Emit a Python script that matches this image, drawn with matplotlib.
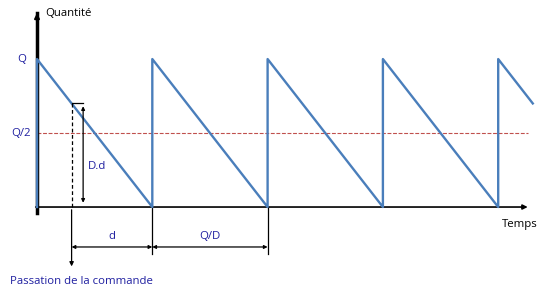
import matplotlib
matplotlib.use("Agg")
import matplotlib.pyplot as plt

# Model values (Q/D = one cycle)
Q = 1.0
D = 1.0
d = 0.70                       # delai de livraison
cycle_starts = [0, 1, 2, 3, 4]  # instants de reapprovisionnement
t_end = 4.30                    # fin du trace

label_color = '#1f1fa0'
line_color = '#4a7ebb'
fs = 8.2

# Build the sawtooth from the cycle list
T = Q / D
xs = [0.0]
ys = [0.0]
for t0 in cycle_starts:
    xs += [t0, min(t0 + T, t_end)]
    ys += [Q, Q - D * (min(t0 + T, t_end) - t0)]
    if t0 + T <= t_end:
        xs.append(t0 + T)
        ys.append(0.0)

t_order = T - d      # passation de la commande
level_order = D * d  # stock au moment de la commande

fig = plt.figure(figsize=(5.51, 2.97), dpi=100)
ax = fig.add_axes([0, 0, 1, 1])
ax.set_xlim(-0.321, 4.458)
ax.set_ylim(-0.608, 1.399)
ax.axis('off')

# axes
ax.plot([0, 0], [-0.04, 1.31], color='black', lw=2.5, zorder=2)
ax.annotate('', xy=(0, 1.33), xytext=(0, 1.25),
            arrowprops=dict(arrowstyle='-|>', color='black', lw=1.5, mutation_scale=7))
ax.annotate('', xy=(4.28, 0), xytext=(-0.035, 0),
            arrowprops=dict(arrowstyle='-|>', color='black', lw=1.2, mutation_scale=7))

# Q/2 dashed line
ax.plot([0, 4.26], [Q / 2, Q / 2], color='#c0504d', lw=0.8, ls=(0, (3.5, 1.5)), zorder=1)

# sawtooth
ax.plot(xs, ys, color=line_color, lw=1.7, zorder=3)

# order point
ax.plot([t_order, t_order], [0, level_order], color='black', lw=0.9, ls=(0, (3, 2)), zorder=4)
ax.plot([t_order, t_order + 0.10], [level_order, level_order], color='black', lw=0.9, zorder=4)
ax.annotate('', xy=(t_order, -0.42), xytext=(t_order, 0),
            arrowprops=dict(arrowstyle='-|>', color='black', lw=0.9, mutation_scale=6))
ax.annotate('', xy=(t_order + 0.10, level_order), xytext=(t_order + 0.10, 0.01),
            arrowprops=dict(arrowstyle='<|-|>', color='black', lw=0.9, mutation_scale=5))
ax.text(t_order + 0.145, 0.277, 'D.d', color=label_color, fontsize=fs,
        family='Open Sans', va='center', ha='left')

# dimension lines
dim_y = -0.27
for xv in [T, 2 * T]:
    ax.plot([xv, xv], [0, -0.318], color='black', lw=0.9)
ax.annotate('', xy=(t_order, dim_y), xytext=(T, dim_y),
            arrowprops=dict(arrowstyle='<|-|>', color='black', lw=0.9, mutation_scale=5,
                            shrinkA=0, shrinkB=0))
ax.annotate('', xy=(T, dim_y), xytext=(2 * T, dim_y),
            arrowprops=dict(arrowstyle='<|-|>', color='black', lw=0.9, mutation_scale=5,
                            shrinkA=0, shrinkB=0))
ax.text((t_order + T) / 2, -0.196, 'd', color=label_color, fontsize=fs,
        family='Open Sans', ha='center', va='center')
ax.text(1.5 * T, -0.196, 'Q/D', color=label_color, fontsize=fs,
        family='Open Sans', ha='center', va='center')

# labels
ax.text(-0.13, Q, 'Q', color=label_color, fontsize=fs, family='Open Sans',
        ha='center', va='center')
ax.text(-0.14, Q / 2, 'Q/2', color=label_color, fontsize=fs, family='Open Sans',
        ha='center', va='center')
ax.text(0.069, 1.311, 'Quantité', color='black', fontsize=fs, family='Open Sans',
        ha='left', va='center')
ax.text(4.03, -0.12, 'Temps', color='black', fontsize=fs, family='Open Sans',
        ha='left', va='center')
ax.text(-0.234, -0.50, 'Passation de la commande', color=label_color, fontsize=fs,
        family='Open Sans', ha='left', va='center')

fig.savefig('out.png', dpi=100)
